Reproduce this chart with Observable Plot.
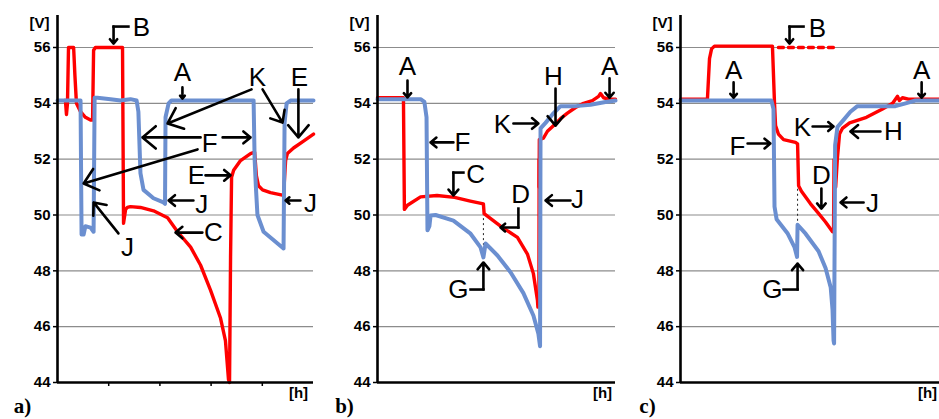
<!DOCTYPE html>
<html>
<head>
<meta charset="utf-8">
<script src="https://cdn.jsdelivr.net/npm/d3@7"></script>
<script src="https://cdn.jsdelivr.net/npm/@observablehq/plot@0.6"></script>
<style>
  html, body { margin: 0; padding: 0; background: #fff; }
  #wrap { position: relative; width: 939px; height: 419px; overflow: hidden; background: #fff; }
  #wrap svg { position: absolute; top: 0; overflow: visible; }
</style>
</head>
<body>
<div id="wrap"></div>
<script>
// ---------- shared axis values ----------
const yTicks = [44, 46, 48, 50, 52, 54, 56];
const gridVals = [46, 48, 50, 52, 54, 56];
const xTicksA = [20, 40, 60, 80];
const panelLabels = ["a)", "b)", "c)"];

// ---------- panel a: series [x (% of time span), V] ----------
const redA = [[2.7,54.1],[3.1,54.1],[3.5,53.6],[3.9,54.0],[4.3,56.0],[6.3,56.0],[6.8,55.0],[7.4,54.0],[9.0,53.7],[10.9,53.5],[12.9,53.4],[13.7,53.4],[14.1,55.9],[14.8,56.0],[25.4,56.0],[25.8,49.7],[26.6,50.2],[27.3,50.27],[28.5,50.3],[32.4,50.27],[37.5,50.15],[43.0,49.9],[46.9,49.4],[52.0,48.85],[55.9,48.2],[59.8,47.3],[63.7,46.3],[65.6,45.5],[66.8,44.1],[67.2,44.0],[67.6,48.5],[68.0,51.35],[68.8,51.6],[71.5,51.95],[75.4,52.2],[77.0,52.25],[77.7,51.4],[78.5,51.05],[80.1,50.9],[83.2,50.8],[88.3,50.7],[89.1,51.95],[89.8,52.2],[92.2,52.4],[96.1,52.65],[100,52.9]];
const blueA = [[0,54.1],[9.0,54.1],[9.4,49.3],[10.2,49.3],[10.9,49.6],[12.9,49.55],[14.1,49.4],[14.5,54.2],[15.6,54.2],[20.7,54.15],[24.6,54.1],[28.5,54.15],[30.9,54.1],[31.6,53.7],[32.4,51.5],[33.6,50.9],[37.5,50.6],[41.4,50.45],[42.0,50.4],[42.2,53.5],[43.4,54.0],[44.5,54.1],[76.6,54.1],[77.0,52.0],[77.5,51.0],[78.1,50.0],[80.5,49.4],[88.3,48.8],[88.7,53.3],[89.5,54.0],[91.0,54.1],[100,54.1]];

// ---------- panel b ----------
const redB1 = [[0,54.2],[10.9,54.2],[11.3,50.2],[12.6,50.35],[18.1,50.65],[25.0,50.7],[32.4,50.63],[39.0,50.5],[44.5,50.4],[44.8,50.05],[51.7,49.6],[58.8,49.2],[63.0,48.6],[65.5,47.9],[67.2,46.95],[67.4,46.7]];
const redBthin = [[67.4,46.7],[67.5,52.0]];
const redB2 = [[67.9,51.0],[68.0,52.7],[69.7,52.75],[71.4,53.0],[73.9,53.2],[76.9,53.45],[79.8,53.65],[83.2,53.85],[86.6,54.0],[90.3,54.1],[92.9,54.25],[93.7,54.35],[95.0,54.2],[97.1,54.15],[100,54.15]];
const blueB = [[0,54.15],[18.1,54.15],[19.7,54.05],[20.6,53.5],[21.0,49.45],[21.8,49.6],[22.3,49.98],[24.4,50.0],[31.9,49.8],[39.1,49.33],[43.3,48.84],[44.5,48.48],[45.4,48.98],[50.4,48.55],[55.9,47.95],[61.3,47.2],[65.5,46.4],[67.6,45.75],[68.3,45.3],[68.5,53.1],[70.6,53.3],[73.5,53.6],[76.9,53.9],[83.2,53.9],[89.5,53.95],[95.8,54.05],[100,54.1]];
const dotB = [[44.5, 50.05, 48.6]];

// ---------- panel c ----------
const redC1 = [[0,54.15],[10.4,54.15],[11.2,55.6],[12.0,55.95],[13.1,56.05],[35.5,56.05],[36.3,54.0],[36.7,53.2],[37.8,52.9],[39.8,52.7],[44.4,52.6],[45.2,52.55],[45.6,51.05],[46.7,50.85],[50.2,50.4],[52.9,50.1],[56.0,49.75],[58.7,49.4]];
const redCthin = [[58.7,49.4],[58.9,52.0]];
const redC2 = [[59.9,51.0],[60.6,52.06],[61.4,52.9],[62.5,53.1],[65.3,53.3],[71.8,53.5],[78.0,53.8],[81.9,54.0],[83.8,54.25],[84.5,54.1],[85.7,54.2],[88.0,54.15],[100,54.15]];
const redCdash = [[37.8,56.0],[59.1,56.0]];
const blueC = [[0,54.1],[35.1,54.1],[35.9,53.8],[36.3,50.3],[37.1,49.85],[41.3,49.35],[44.0,48.85],[45.0,48.5],[45.2,49.65],[48.3,49.33],[53.3,48.7],[56.0,48.1],[58.0,47.4],[58.7,46.6],[59.1,45.5],[59.3,45.4],[59.7,52.5],[60.6,53.15],[62.9,53.4],[65.6,53.7],[68.3,53.9],[83.0,53.9],[86.9,54.0],[90.7,54.1],[100,54.1]];
const dotC = [[45.2, 51.1, 49.6]];

// ---------- annotation letters [x, V, text] ----------
const lettersA = [[32.8,56.72,"B"],[48.8,55.1,"A"],[78.1,54.93,"K"],[94.5,54.93,"E"],[59.4,52.56,"F"],[54.3,51.42,"E"],[56.3,50.38,"J"],[98.8,50.41,"J"],[27.3,48.84,"J"],[60.9,49.37,"C"]];
const lettersB = [[12.6,55.32,"A"],[35.7,52.6,"F"],[41.2,51.45,"C"],[60.1,50.73,"D"],[84.0,50.55,"J"],[52.5,53.24,"K"],[73.9,54.96,"H"],[97.5,55.32,"A"],[34.0,47.33,"G"]];
const lettersC = [[52.9,56.68,"B"],[20.5,55.18,"A"],[22.0,52.45,"F"],[47.1,53.13,"K"],[82.2,52.99,"H"],[54.4,51.42,"D"],[74.1,50.41,"J"],[35.5,47.33,"G"],[93.1,55.18,"A"]];

// straight arrows [x1, V1, x2, V2]
const arrowsA = [[48.8,54.57,48.8,54.17],[75.8,54.5,43.0,53.28],[80.1,54.5,87.9,53.31],[94.1,54.5,94.1,52.78],[55.9,52.78,33.2,52.78],[64.5,52.78,75.4,52.78],[54.7,52.35,10.2,51.13],[57.8,51.42,67.6,51.42],[53.1,50.52,43.4,50.52],[94.9,50.52,89.1,50.52],[23.8,49.34,14.1,50.45],[56.6,49.37,46.1,49.37]];
const arrowsB = [[12.6,54.82,12.6,54.21],[31.9,52.6,22.3,52.6],[81.1,50.52,70.6,50.52],[57.1,53.28,67.6,53.28],[74.8,54.53,74.8,53.2],[97.5,54.9,97.5,54.2]];
const arrowsC = [[20.5,54.75,20.5,54.2],[25.9,52.56,34.7,52.56],[51.0,53.17,59.1,53.17],[77.2,52.99,65.6,52.99],[54.4,50.95,54.4,50.23],[70.7,50.45,61.8,50.45],[93.1,54.75,93.1,54.2]];
// bent arrows [x1, V1, xm, Vm, x2, V2]
const bentA = [[27.7,56.75,21.9,56.75,21.9,56.14]];
const bentB = [[36.1,51.52,31.9,51.52,31.9,50.7],[59.2,50.23,59.2,49.55,51.7,49.55],[39.1,47.33,44.5,47.33,44.5,48.3]];
const bentC = [[47.5,56.75,42.1,56.75,42.1,56.14],[39.8,47.33,45.2,47.33,45.2,48.26]];

const RED = "#ff0000";
const BLUE = "#6b8fd0";
const FONT = "'Liberation Sans', Arial, sans-serif";

function panel(cfg) {
  const marks = [
    Plot.ruleY(gridVals, {stroke: "#8c8c8c", strokeWidth: 1.2}),
  ];
  if (cfg.dots) marks.push(Plot.ruleX(cfg.dots, {x: d => d[0], y1: d => d[1], y2: d => d[2], stroke: "#222", strokeWidth: 1, strokeDasharray: "2,3"}));
  cfg.red.forEach(s => marks.push(Plot.line(s, {x: d => d[0], y: d => d[1], stroke: RED, strokeWidth: 3.4, strokeLinejoin: "round"})));
  if (cfg.redThin) marks.push(Plot.line(cfg.redThin, {x: d => d[0], y: d => d[1], stroke: RED, strokeWidth: 1.4}));
  if (cfg.redDash) marks.push(Plot.line(cfg.redDash, {x: d => d[0], y: d => d[1], stroke: RED, strokeWidth: 3.4, strokeDasharray: "5,5"}));
  marks.push(Plot.line(cfg.blue, {x: d => d[0], y: d => d[1], stroke: BLUE, strokeWidth: 4, strokeLinejoin: "round"}));
  // axes
  marks.push(Plot.ruleX([0], {y1: 44, y2: 57.15, stroke: "black", strokeWidth: 2.6}));
  marks.push(Plot.ruleY([44], {x1: 0, x2: 100, stroke: "black", strokeWidth: 2.6}));
  marks.push(Plot.axisY(yTicks, {tickSize: 4, tickPadding: 3, tickFormat: d => String(d), fontSize: 15, fontWeight: "bold", label: null, stroke: "black", strokeWidth: 1.5}));
  if (cfg.xTicks) marks.push(Plot.axisX(cfg.xTicks, {tickSize: 4, tickFormat: () => "", label: null, stroke: "black", strokeWidth: 1.5}));
  // unit labels
  marks.push(Plot.text(["[V]"], {frameAnchor: "top-left", dx: -18, dy: -24, textAnchor: "middle", lineAnchor: "middle", fontSize: 15, fontWeight: "bold"}));
  marks.push(Plot.text(["[h]"], {frameAnchor: "bottom-right", dx: cfg.hdx, dy: 11, textAnchor: "middle", lineAnchor: "middle", fontSize: 15, fontWeight: "bold"}));
  marks.push(Plot.text([cfg.label], {frameAnchor: "bottom-left", dx: cfg.ldx, dy: 24, textAnchor: "middle", lineAnchor: "middle", fontSize: 21, fontWeight: "bold", fontFamily: "'Liberation Serif', 'Times New Roman', serif"}));
  // annotations
  marks.push(Plot.link(cfg.bent, {x1: d => d[0], y1: d => d[1], x2: d => d[2], y2: d => d[3], stroke: "black", strokeWidth: 2.6, strokeLinecap: "square"}));
  marks.push(Plot.arrow(cfg.bent, {x1: d => d[2], y1: d => d[3], x2: d => d[4], y2: d => d[5], stroke: "black", strokeWidth: 2.6, headLength: 10, headAngle: 80}));
  marks.push(Plot.arrow(cfg.arrows, {x1: d => d[0], y1: d => d[1], x2: d => d[2], y2: d => d[3], stroke: "black", strokeWidth: 2.6, headLength: 10, headAngle: 80}));
  marks.push(Plot.text(cfg.letters, {x: d => d[0], y: d => d[1], text: d => d[2], fontSize: 26, textAnchor: "middle", lineAnchor: "middle", fill: "black"}));

  const svg = Plot.plot({
    width: cfg.width, height: 419,
    marginTop: 47, marginBottom: 37, marginLeft: cfg.ml, marginRight: cfg.mr,
    x: {domain: [0, 100], axis: null},
    y: {domain: [44, 56], axis: null},
    style: {fontFamily: FONT, fontSize: "14px", background: "transparent", overflow: "visible"},
    marks
  });
  svg.style.left = cfg.left + "px";
  document.getElementById("wrap").appendChild(svg);
}

panel({left: 0, width: 320, ml: 57, mr: 7, red: [redA], blue: blueA, xTicks: xTicksA,
  letters: lettersA, arrows: arrowsA, bent: bentA, label: panelLabels[0], hdx: -15, ldx: -35});
panel({left: 320, width: 300, ml: 57, mr: 5, red: [redB1, redB2], redThin: redBthin, blue: blueB, dots: dotB,
  letters: lettersB, arrows: arrowsB, bent: bentB, label: panelLabels[1], hdx: -13, ldx: -33});
panel({left: 630, width: 309, ml: 50, mr: 0, red: [redC1, redC2], redThin: redCthin, redDash: redCdash, blue: blueC, dots: dotC,
  letters: lettersC, arrows: arrowsC, bent: bentC, label: panelLabels[2], hdx: -12, ldx: -33});
</script>
</body>
</html>
